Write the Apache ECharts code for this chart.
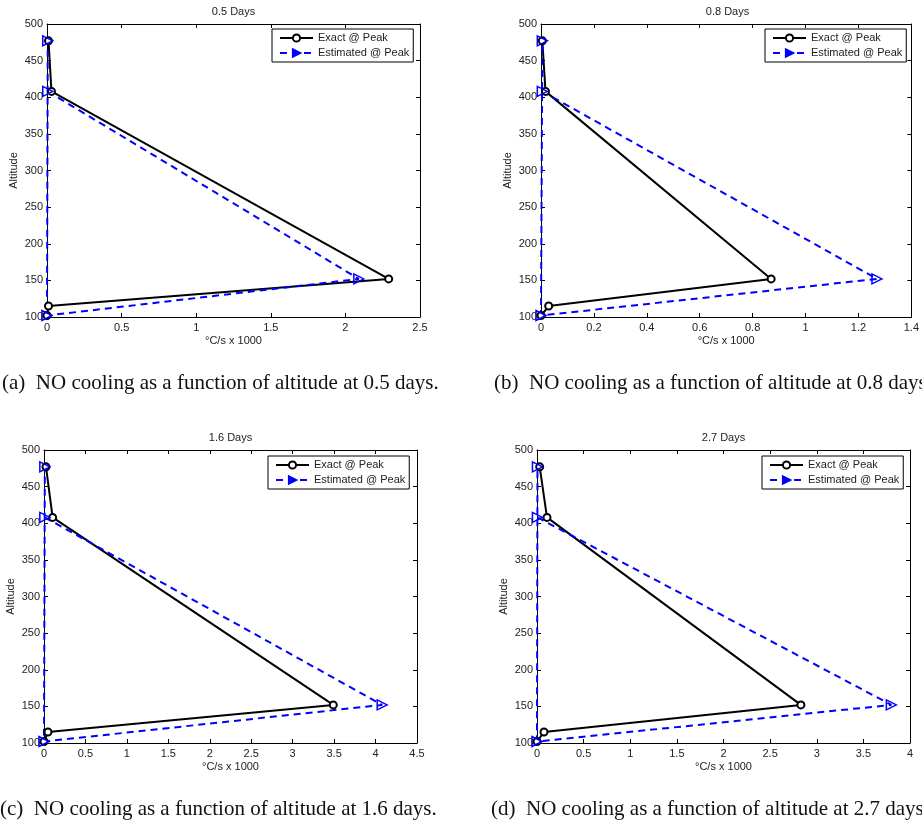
<!DOCTYPE html>
<html>
<head>
<meta charset="utf-8">
<script src="https://cdn.jsdelivr.net/npm/echarts@6/dist/echarts.min.js"></script>
<style>
  html, body { margin: 0; padding: 0; background: #fff; }
  #main { width: 922px; height: 823px; }
</style>
</head>
<body>
<div id="main"></div>
<script>
  // altitudes of the exact profile (top to bottom) and the order the estimated profile is drawn in
  var altitude = [477, 408, 152, 115, 102];
  var estAltitude = [408, 152, 102, 477];

  var days = ['0.5', '0.8', '1.6', '2.7'];
  var captions = [
    '(a)  NO cooling as a function of altitude at 0.5 days.',
    '(b)  NO cooling as a function of altitude at 0.8 days.',
    '(c)  NO cooling as a function of altitude at 1.6 days.',
    '(d)  NO cooling as a function of altitude at 2.7 days.'
  ];

  // °C/s x 1000
  var exact05 = [0.01, 0.03, 2.29, 0.01, 0];
  var est05 = [0.005, 2.09, 0, 0.005];
  var exact08 = [0.005, 0.017, 0.87, 0.029, 0];
  var est08 = [0.005, 1.27, 0, 0.005];
  var exact16 = [0.024, 0.104, 3.49, 0.048, 0];
  var est16 = [0.01, 4.08, 0, 0.01];
  var exact27 = [0.029, 0.107, 2.83, 0.075, 0];
  var est27 = [0.005, 3.80, 0, 0.005];

  var xMax = [2.5, 1.4, 4.5, 4];
  var xStep = [0.5, 0.2, 0.5, 0.5];
  var yMin = 100, yMax = 500, yStep = 50;

  var exactAll = [exact05, exact08, exact16, exact27];
  var estAll = [est05, est08, est16, est27];

  // panel boxes
  var panels = [
    {left: 47, top: 24, legendLeft: 272, legendTop: 29, capLeft: 2, capTop: 373},
    {left: 541, top: 24, legendLeft: 765, legendTop: 29, capLeft: 494, capTop: 373},
    {left: 44, top: 450, legendLeft: 268, legendTop: 456, capLeft: 0, capTop: 799},
    {left: 537, top: 450, legendLeft: 762, legendTop: 456, capLeft: 491, capTop: 799}
  ];
  var gw = 373, gh = 293;

  var font = '"Liberation Sans", Arial, Helvetica, sans-serif';
  var ink = '#222';

  function pairs(xs, ys) {
    var out = [];
    for (var i = 0; i < xs.length; i++) {
      out.push([xs[i], ys[i]]);
    }
    return out;
  }

  var grid = [], xAxis = [], yAxis = [], series = [], title = [], legend = [], graphic = [];

  for (var i = 0; i < 4; i++) {
    var p = panels[i];
    grid.push({left: p.left, top: p.top, width: gw, height: gh, containLabel: false});

    var axisLine = {show: true, onZero: false, lineStyle: {color: '#000', width: 1}};
    var tick = {show: true, inside: true, length: 4, lineStyle: {color: '#000'}};

    xAxis.push({
      gridIndex: i, type: 'value', position: 'bottom',
      min: 0, max: xMax[i], interval: xStep[i],
      name: '°C/s x 1000', nameLocation: 'middle', nameGap: 18,
      nameTextStyle: {fontSize: 11, color: ink, fontFamily: font},
      axisLine: axisLine, axisTick: tick,
      axisLabel: {fontSize: 11, color: ink, margin: 5, fontFamily: font},
      splitLine: {show: false}
    });
    xAxis.push({
      gridIndex: i, type: 'value', position: 'top',
      min: 0, max: xMax[i], interval: xStep[i],
      axisLine: axisLine, axisTick: tick,
      axisLabel: {show: false}, splitLine: {show: false}
    });
    yAxis.push({
      gridIndex: i, type: 'value', position: 'left',
      min: yMin, max: yMax, interval: yStep,
      name: 'Altitude', nameLocation: 'middle', nameGap: 28,
      nameTextStyle: {fontSize: 11, color: ink, fontFamily: font},
      axisLine: axisLine, axisTick: tick,
      axisLabel: {fontSize: 11, color: ink, margin: 4, fontFamily: font},
      splitLine: {show: false}
    });
    yAxis.push({
      gridIndex: i, type: 'value', position: 'right',
      min: yMin, max: yMax, interval: yStep,
      axisLine: axisLine, axisTick: tick,
      axisLabel: {show: false}, splitLine: {show: false}
    });

    series.push({
      name: 'Exact @ Peak', type: 'line',
      xAxisIndex: 2 * i, yAxisIndex: 2 * i,
      data: pairs(exactAll[i], altitude),
      symbol: 'emptyCircle', symbolSize: 7, clip: false,
      lineStyle: {color: '#000', width: 2},
      itemStyle: {color: '#000', borderWidth: 1.8}
    });
    series.push({
      name: 'Estimated @ Peak', type: 'line',
      xAxisIndex: 2 * i, yAxisIndex: 2 * i,
      data: pairs(estAll[i], estAltitude),
      symbol: 'triangle', symbolRotate: -90, symbolSize: 10, clip: false,
      lineStyle: {color: '#0000ff', width: 2, type: [7, 5]},
      itemStyle: {color: 'rgba(255,255,255,0)', borderColor: '#0000ff', borderWidth: 1.5}
    });

    title.push({
      text: days[i] + ' Days',
      left: p.left + gw / 2, top: p.top - 18, textAlign: 'center', padding: 0,
      textStyle: {fontSize: 11, fontWeight: 'normal', color: ink, fontFamily: font}
    });

    legend.push({
      orient: 'vertical', left: p.legendLeft, top: p.legendTop,
      data: [
        'Exact @ Peak',
        {name: 'Estimated @ Peak', itemStyle: {color: '#0000ff', borderColor: '#0000ff'}}
      ],
      itemWidth: 33, itemHeight: 9, itemGap: 3,
      padding: [3, 4, 3, 7],
      borderColor: '#000', borderWidth: 1, backgroundColor: '#fff',
      selectedMode: false,
      textStyle: {fontSize: 11, color: ink, lineHeight: 12, fontFamily: font}
    });

    graphic.push({
      type: 'text', left: p.capLeft, top: p.capTop,
      style: {text: captions[i], font: '21px "Liberation Serif", "Times New Roman", serif', fill: '#111'}
    });
  }

  var myChart = echarts.init(document.getElementById('main'));
  myChart.setOption({
    animation: false,
    backgroundColor: '#fff',
    title: title,
    legend: legend,
    grid: grid,
    xAxis: xAxis,
    yAxis: yAxis,
    series: series,
    graphic: graphic
  });
</script>
</body>
</html>
